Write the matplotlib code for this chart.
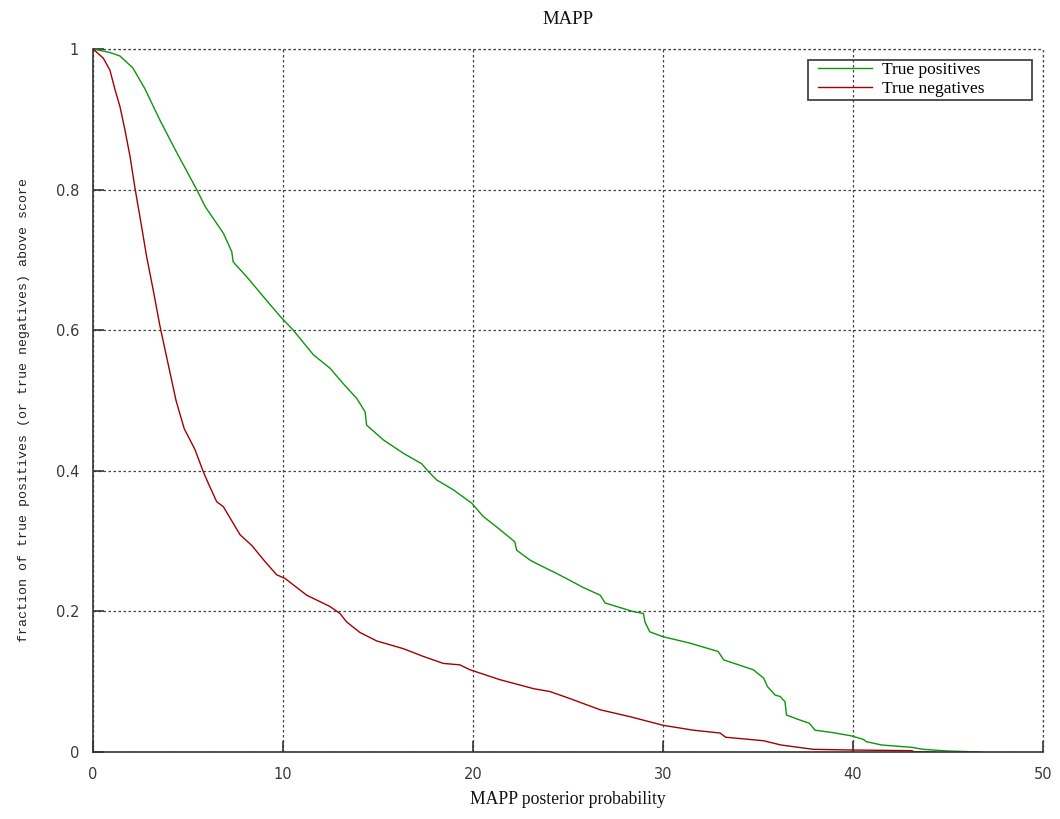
import matplotlib
matplotlib.use("Agg")
import matplotlib.pyplot as plt
from matplotlib.patches import Rectangle

# Fraction of true positives scoring above each MAPP posterior probability
tp_score = [0, 0.54, 0.9, 1.42, 2.1, 2.74, 3.5, 4.4, 5.1, 5.46, 5.9, 6.86, 7.3, 7.38,
            8.09, 8.96, 9.84, 10.54, 11.6, 12.47, 13.17, 13.88, 14.32, 14.4, 15.28,
            16.33, 17.3, 17.65, 18.09, 18.96, 19.93, 20.54, 21.25, 22.2, 22.3, 23.0,
            23.35, 24.4, 24.9, 25.8, 26.7, 26.95, 28.4, 28.97, 29.05, 29.3, 30.0,
            31.4, 32.9, 33.2, 34.75, 35.3, 35.5, 35.9, 36.16, 36.42, 36.5, 37.2,
            37.7, 38.0, 38.96, 39.9, 40.54, 40.7, 41.5, 43.1, 43.7, 45.0, 46.7]
tp_frac = [1.0, 0.997, 0.995, 0.99, 0.973, 0.943, 0.9, 0.853, 0.818, 0.8, 0.776, 0.738,
           0.712, 0.697, 0.676, 0.648, 0.62, 0.6, 0.565, 0.546, 0.524, 0.503, 0.484,
           0.465, 0.444, 0.425, 0.41, 0.399, 0.387, 0.373, 0.354, 0.335, 0.32, 0.299,
           0.287, 0.273, 0.268, 0.254, 0.247, 0.234, 0.223, 0.212, 0.2, 0.197, 0.185,
           0.171, 0.164, 0.155, 0.143, 0.131, 0.117, 0.105, 0.093, 0.081, 0.079,
           0.0716, 0.0526, 0.0455, 0.041, 0.031, 0.0275, 0.023, 0.018, 0.0147, 0.01,
           0.0066, 0.0038, 0.0014, 0.0]

# Fraction of true negatives scoring above each MAPP posterior probability
tn_score = [0, 0.54, 0.89, 1.16, 1.42, 1.68, 1.95, 2.21, 2.56, 2.82, 3.17, 3.53, 4.37,
            4.8, 5.37, 5.8, 6.07, 6.51, 6.86, 7.74, 8.35, 9.05, 9.67, 10.1, 11.25,
            12.47, 13.0, 13.35, 14.05, 14.93, 16.33, 17.38, 18.44, 19.3, 19.84, 21.4,
            23.2, 24.05, 25.1, 26.7, 28.3, 30.0, 31.6, 33.0, 33.3, 35.3, 36.2, 37.9,
            40.0, 43.1, 43.2, 44.3]
tn_frac = [1.0, 0.987, 0.97, 0.942, 0.918, 0.885, 0.847, 0.802, 0.747, 0.705, 0.657,
           0.605, 0.5, 0.46, 0.43, 0.399, 0.382, 0.356, 0.349, 0.309, 0.294, 0.271,
           0.252, 0.247, 0.223, 0.207, 0.197, 0.185, 0.17, 0.158, 0.147, 0.136, 0.126,
           0.124, 0.117, 0.103, 0.09, 0.086, 0.076, 0.06, 0.05, 0.038, 0.031, 0.027,
           0.021, 0.016, 0.01, 0.0038, 0.0028, 0.0019, 0.0005, 0.0]

x_ticks = [0, 10, 20, 30, 40, 50]
y_ticks = [0, 0.2, 0.4, 0.6, 0.8, 1.0]
y_tick_labels = ["0", "0.2", "0.4", "0.6", "0.8", "1"]

W, H = 1060, 819
fig = plt.figure(figsize=(W / 100, H / 100), dpi=100)
ax_l, ax_r, ax_t, ax_b = 93, 1043, 49, 752
ax = fig.add_axes([ax_l / W, 1 - ax_b / H, (ax_r - ax_l) / W, (ax_b - ax_t) / H])

serif = ["Liberation Serif", "DejaVu Serif"]
axis_col = "#333333"
grid_kw = dict(color="#444444", linewidth=0.9, linestyle=(0, (2, 2)))

ax.set_xlim(0, 50)
ax.set_ylim(0, 1)
ax.set_xticks(x_ticks)
ax.set_yticks(y_ticks)
ax.set_yticklabels(y_tick_labels)
ax.grid(True, **grid_kw)
ax.axhline(1.0, clip_on=False, **grid_kw)
ax.axvline(50, clip_on=False, **grid_kw)

for side in ("top", "right"):
    ax.spines[side].set_visible(False)
for side in ("left", "bottom"):
    ax.spines[side].set_color(axis_col)
    ax.spines[side].set_linewidth(1.2)

ax.tick_params(direction="in", length=8, width=1.2, color=axis_col,
               labelcolor="#3a3a3a", labelsize=10.5)
ax.tick_params(axis="x", pad=11)
ax.tick_params(axis="y", pad=10)
for lab in ax.get_xticklabels() + ax.get_yticklabels():
    lab.set_fontfamily("DejaVu Sans")

ax.plot(tp_score, tp_frac, color="#0b960b", linewidth=1.0, label="True positives")
ax.plot(tn_score, tn_frac, color="#a30000", linewidth=1.0, label="True negatives")

# legend entries without a frame, box drawn separately
leg = ax.legend(loc="upper left", bbox_to_anchor=((818 - ax_l) / (ax_r - ax_l),
                                                  (ax_b - 62) / (ax_b - ax_t)),
                frameon=False, borderpad=0, borderaxespad=0, handlelength=3.1,
                handletextpad=0.6, labelspacing=0.15,
                prop={"family": serif, "size": 12.5})
box_x0, box_x1, box_y0, box_y1 = 808, 1032, 60, 100
ax.add_patch(Rectangle(((box_x0 - ax_l) / (ax_r - ax_l), (ax_b - box_y1) / (ax_b - ax_t)),
                       (box_x1 - box_x0) / (ax_r - ax_l), (box_y1 - box_y0) / (ax_b - ax_t),
                       transform=ax.transAxes, fill=False, edgecolor="#444444",
                       linewidth=1.3, zorder=5, clip_on=False))

cx = (ax_l + ax_r) / 2 / W
fig.text(cx, 1 - 19 / H, "MAPP", ha="center", va="center", family=serif,
         fontsize=13.5, color="#111111")
fig.text(cx, 1 - 800 / H, "MAPP posterior probability", ha="center", va="center",
         family=serif, fontsize=12.7, color="#111111")
fig.text(24 / W, 1 - 410 / H,
         "fraction of true positives (or true negatives) above score",
         ha="center", va="center", rotation=90, family=["Liberation Mono", "DejaVu Sans Mono"],
         fontsize=9.5, color="#222222")

fig.savefig("out.png", dpi=100)
